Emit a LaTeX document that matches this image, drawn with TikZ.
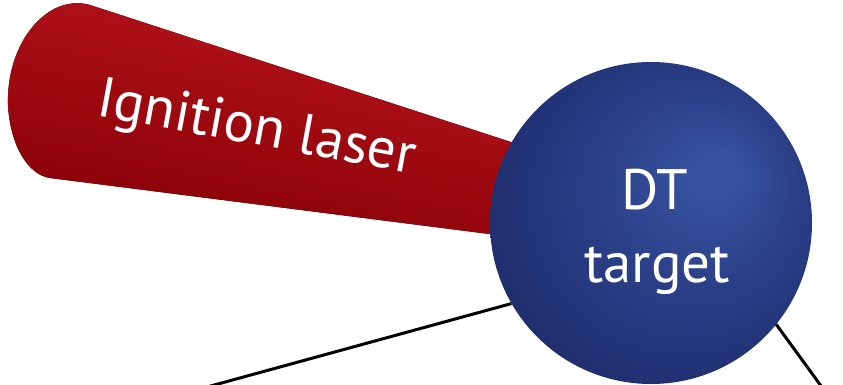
\documentclass[tikz,border=0pt]{standalone}
\usepackage{fontspec}
\setmainfont{PT Sans}
\usetikzlibrary{calc}

\definecolor{beamtop}{HTML}{BC151F}
\definecolor{beammid}{HTML}{A90D17}
\definecolor{beambot}{HTML}{850004}
\definecolor{spherehl}{HTML}{3853A0}
\definecolor{sphereinner}{HTML}{2C418A}
\definecolor{spheremid}{HTML}{24357A}
\definecolor{sphereedge}{HTML}{1E2965}

% sphere shading with its highlight up and to the right
% (the central 50bp square of a shading is stretched over the path)
\pgfdeclareradialshading{sphereshade}{\pgfpoint{11bp}{8bp}}{%
  color(0bp)=(spherehl);
  color(4bp)=(spherehl!90!sphereinner);
  color(14bp)=(sphereinner);
  color(24bp)=(spheremid);
  color(34bp)=(sphereedge);
  color(45bp)=(sphereedge)}

\tikzset{
  bigtext/.style={text=white, font=\fontsize{57}{68}\selectfont, inner sep=0pt},
  wire/.style={line width=3pt, black},
  targetball/.style={circle, minimum size=322pt, inner sep=0pt, shading=sphereshade},
  beam/.style={top color=beamtop, middle color=beammid, bottom color=beambot, shading angle=-12}
}

\begin{document}
\begin{tikzpicture}[x=1pt, y=-1pt]
  \useasboundingbox (0,0) rectangle (843,385);

  % laser beam, its far end hidden under the target
  \fill[beam] (560,158) -- (90,5)
    .. controls (48,-7) and (6,42) .. (8,105)
    .. controls (10,145) and (28,175) .. (50,178)
    -- (560,243) -- cycle;

  \node[bigtext, rotate=-10.5, anchor=base west] (laserlabel) at (95,115) {Ignition laser};

  % target sphere
  \node[targetball] (target) at (651,223) {};

  \coordinate (farleft) at (196,390);
  \coordinate (farright) at (824,390);
  \draw[wire] (target.210.8) -- (farleft);
  \draw[wire] (target.321) -- (farright);

  \node[bigtext, anchor=base] (dt) at (655,209) {DT};
  \node[bigtext, anchor=base] (tgt) at (657,282) {target};
\end{tikzpicture}
\end{document}
